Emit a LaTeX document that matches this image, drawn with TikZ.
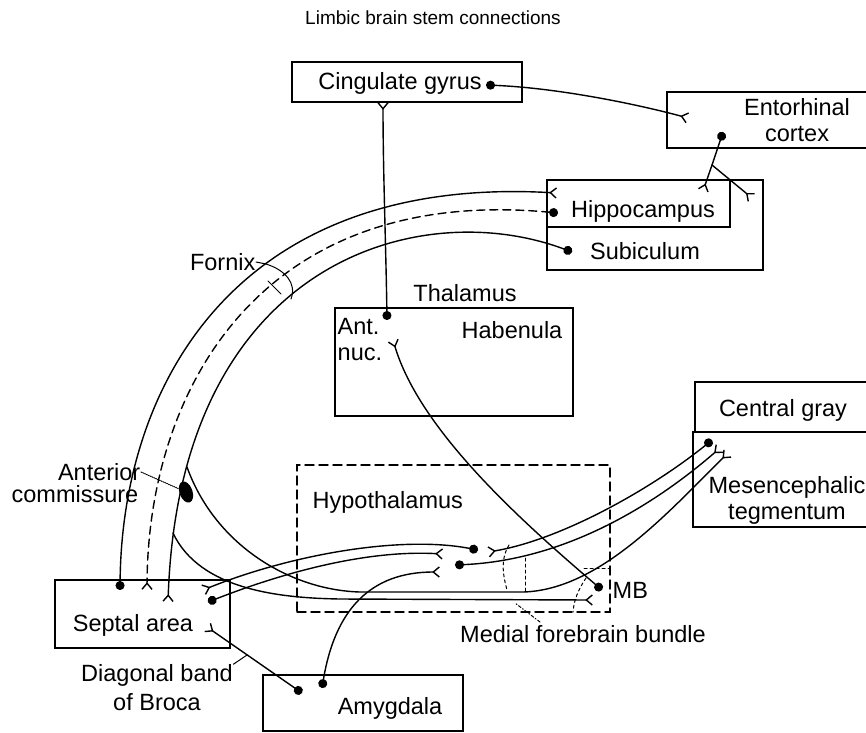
\documentclass[tikz,border=0pt]{standalone}
\usepackage{fontspec}
\setmainfont{Liberation Sans}
\usetikzlibrary{arrows.meta,shapes.geometric}

\begin{document}
\begin{tikzpicture}[x=1pt,y=-1pt,line width=1.4pt,line cap=round,
            dotfork/.style={{Circle[length=9pt]}-{Straight Barb[reversed,length=6pt,width=10pt]}},
            dotline/.style={{Circle[length=9pt]}-},
            forkline/.style={-{Straight Barb[reversed,length=6pt,width=10pt]}}]
        \tikzstyle{box}=[draw,rectangle,inner sep=0pt]
        \tikzstyle{lbl}=[font=\fontsize{23.5}{26}\selectfont,inner sep=0pt,align=center]
        \tikzstyle{thin}=[line width=1pt]
        \useasboundingbox (0,0) rectangle (866,732);

        \node[lbl,font=\fontsize{19}{22}\selectfont] (title) at (433,18) {Limbic brain stem connections};

        \node[box,minimum width=230,minimum height=40] (CG) at (407,82) {};
        \node[box,minimum width=213,minimum height=56] (EC) at (773.5,120) {};
        \node[box,minimum width=216,minimum height=90] (HS) at (655,225) {};
        \node[box,minimum width=183,minimum height=47] (HC) at (638.5,203.5) {};
        \node[box,minimum width=238,minimum height=108] (TH) at (454,362) {};
        \node[box,dash pattern=on 9pt off 5pt,minimum width=313,minimum height=147] (HY) at (453.5,538.5) {};
        \node[box,minimum width=185,minimum height=50] (CGr) at (787.5,407) {};
        \node[box,minimum width=187,minimum height=95] (MT) at (786.5,479.5) {};
        \node[box,minimum width=175,minimum height=68] (SA) at (142.5,614) {};
        \node[box,minimum width=200,minimum height=56] (AM) at (363,703) {};

        \node[lbl] (CGt) at (400,83) {Cingulate gyrus};
        \node[lbl] (ECt) at (797,120) {Entorhinal\\cortex};
        \node[lbl] (HCt) at (643,211) {Hippocampus};
        \node[lbl] (SBt) at (645,251) {Subiculum};
        \node[lbl,anchor=east] (FXt) at (256,262) {Fornix};
        \node[lbl] (THt) at (465,293) {Thalamus};
        \node[lbl] (HBt) at (512,330) {Habenula};
        \node[lbl,anchor=west,align=left] (ANt) at (337,340) {Ant.\\nuc.};
        \node[lbl] (CGrt) at (783,410) {Central gray};
        \node[lbl] (MTt) at (787,500) {Mesencephalic\\tegmentum};
        \node[lbl,anchor=west] (HYt) at (312,502) {Hypothalamus};
        \node[lbl,anchor=west] (MBt) at (612,590) {MB};
        \node[lbl] (MFt) at (583,634) {Medial forebrain bundle};
        \node[lbl,anchor=east] (ACt) at (141,472) {Anterior};
        \node[lbl,anchor=east] (ACt2) at (139,494) {commissure};
        \node[lbl] (SAt) at (133,625) {Septal area};
        \node[lbl] (DBt) at (157,688) {Diagonal band\\[3pt]of Broca};
        \node[lbl] (AMt) at (390,708) {Amygdala};

        \node[ellipse,fill,minimum width=13,minimum height=22,inner sep=0pt,rotate=20] (AC) at (186,492) {};

        \coordinate (cgD) at (486,85);
        \coordinate (ecD) at (723,132);
        \coordinate (hcD) at (558,213);
        \coordinate (sbD) at (572,252);
        \coordinate (anD) at (387,320);
        \coordinate (saD1) at (120,590);
        \coordinate (saD2) at (208,602);
        \coordinate (hyD1) at (478,550);
        \coordinate (hyD2) at (455,565);
        \coordinate (mbD) at (602,590);
        \coordinate (cgrD) at (712,440);
        \coordinate (amD1) at (302,693);
        \coordinate (amD2) at (322,688);

        \coordinate (cgF) at (383,102);
        \coordinate (ecF) at (688,118);
        \coordinate (hcF1) at (557,193);
        \coordinate (hcF2) at (703,191);
        \coordinate (hcF3) at (752,198);
        \coordinate (anF) at (393,340);
        \coordinate (saF1) at (147,590);
        \coordinate (saF2) at (168,602);
        \coordinate (saF3) at (203,590);
        \coordinate (saF4) at (207,627);
        \coordinate (hyF1) at (443,554);
        \coordinate (hyF2) at (440,572);
        \coordinate (hyF3) at (488,552);
        \coordinate (mbF) at (593,600);
        \coordinate (mtF1) at (720,448);
        \coordinate (mtF2) at (728,453);

        \coordinate (ecB) at (712,165);
        \coordinate (fxA) at (187,467);
        \coordinate (fxB) at (173,533);
        \coordinate (fxO) at (266,264);
        \coordinate (dbL) at (247,655);
        \coordinate (mfL) at (515,603);

        \draw[dotfork] (cgD) .. controls (560,88) and (640,105) .. (ecF);
        \draw[dotline] (ecD) -- (ecB);
        \draw[forkline] (ecB) -- (hcF2);
        \draw[forkline] (ecB) -- (hcF3);
        \draw[dotfork] (saD1) .. controls (122,380) and (240,175) .. (hcF1);
        \draw[dotfork,dash pattern=on 8pt off 5pt] (hcD) .. controls (260,185) and (148,390) .. (saF1);
        \draw[dotfork] (sbD) .. controls (420,195) and (180,260) .. (saF2);
        \draw[forkline] (fxA) .. controls (215,545) and (290,590) .. (360,592) -- (523,592)
            .. controls (600,590) and (670,510) .. (mtF2);
        \draw[forkline] (fxB) .. controls (200,590) and (280,598) .. (340,599) -- (mbF);
        \draw[dotfork] (hyD1) .. controls (400,535) and (290,555) .. (saF3);
        \draw[dotfork] (saD2) .. controls (290,570) and (370,550) .. (hyF1);
        \draw[dotfork] (amD2) .. controls (335,610) and (370,572) .. (hyF2);
        \draw[dotfork] (amD1) -- (saF4);
        \draw[dotfork] (cgrD) .. controls (650,490) and (560,540) .. (hyF3);
        \draw[dotfork] (hyD2) .. controls (570,560) and (660,500) .. (mtF1);
        \draw[dotfork] (mbD) .. controls (520,520) and (420,430) .. (anF);
        \draw[dotfork] (anD) .. controls (386,250) and (383,170) .. (cgF);

        \draw[thin] (FXt.east) -- (fxO);
        \draw[thin] (fxO) .. controls (285,270) and (297,283) .. (291,299);
        \draw[thin] (268,281) -- (281,294);
        \draw[thin,densely dotted] (ACt.east) -- (AC);
        \draw[thin] (DBt.north east) -- (dbL);
        \draw[thin,dash dot] (540,622) -- (mfL);
        \draw[thin,dashed] (509,545) .. controls (500,560) and (503,575) .. (507,590);
        \draw[thin,dashed] (525,558) -- (525,591);
        \draw[thin,dashed] (584,568) -- (610,568);
        \draw[thin,dashed] (586,578) .. controls (578,590) and (574,600) .. (573,612);
    \end{tikzpicture}
\end{document}
